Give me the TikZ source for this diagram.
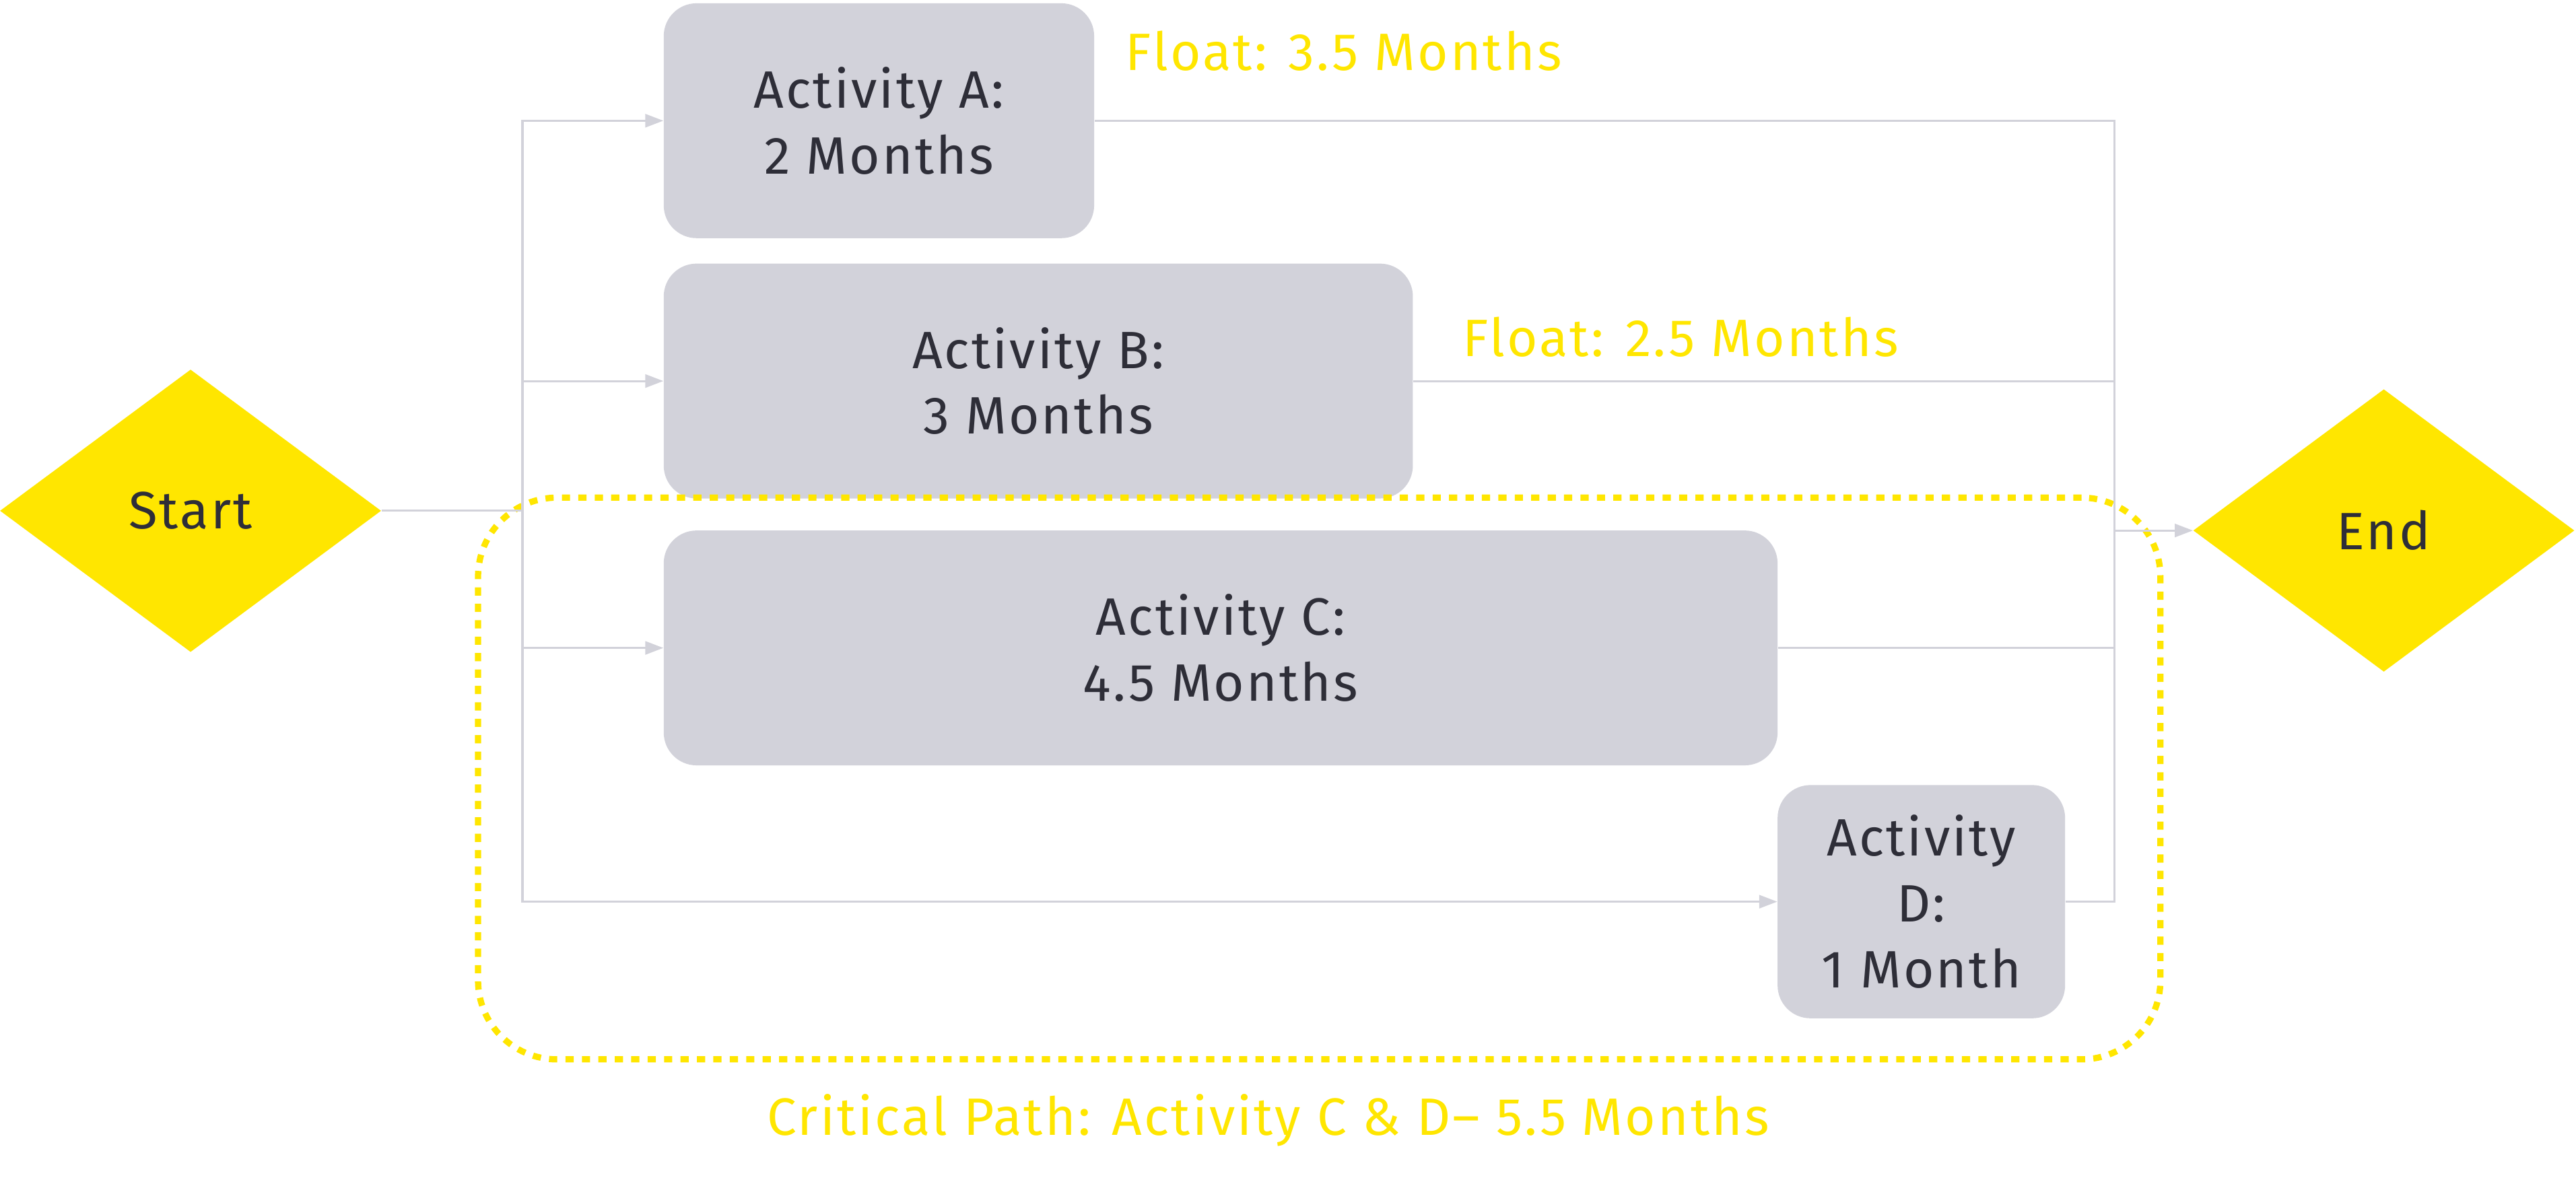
\documentclass[tikz,border=0pt]{standalone}
\usepackage{fontspec}
\setmainfont{Fira Sans}[LetterSpace=4]
\usepackage{tikz}
\usetikzlibrary{
  arrows.meta,
  positioning,
  shapes.geometric
}

\definecolor{eyyellow}{HTML}{FFE600}
\definecolor{eygray}{HTML}{D2D2DA}
\definecolor{eydark}{HTML}{2E2E38}

\begin{document}
\begin{tikzpicture}[
  x=1pt,
  y=-1pt,
  font=\fontsize{32}{40}\selectfont,
  terminal/.style={
    diamond,
    fill=eyyellow,
    inner sep=0pt,
    minimum width=232pt,
    minimum height=172pt,
    text=eydark
  },
  activity/.style={
    rectangle,
    rounded corners=20pt,
    fill=eygray,
    align=center,
    inner sep=0pt,
    minimum height=143pt,
    text=eydark
  },
  floatnote/.style={
    anchor=west,
    inner sep=0pt,
    text=eyyellow
  },
  critical/.style={
    draw=eyyellow,
    line width=3.8pt,
    dash pattern=on 5pt off 5pt,
    rounded corners=48pt,
    inner sep=0pt
  },
  link/.style={
    draw=eygray,
    line width=1.3pt
  },
  arrow/.style={
    link,
    -{Triangle[length=11pt,width=8pt]}
  }
]
\useasboundingbox (0,0) rectangle (1568,722);

\node[terminal] (start) at (116,311) {Start};
\node[terminal] (end) at (1451,323) {End};

\node[activity,minimum width=262pt] (actA) at (535,73.5)
  {Activity A:\\2 Months};
\node[activity,minimum width=456pt] (actB) at (632,232)
  {Activity B:\\3 Months};
\node[activity,minimum width=678pt] (actC) at (743,394.5)
  {Activity C:\\4.5 Months};
\node[activity,minimum width=175pt,minimum height=142pt] (actD) at (1169.5,549)
  {Activity\\D:\\1 Month};

\node[floatnote] (floatA) at (685,31) {Float: 3.5 Months};
\node[floatnote] (floatB) at (890,205) {Float: 2.5 Months};

% --- critical path frame ---
\node[critical,minimum width=1024pt,minimum height=342pt] (crit) at (803,474) {};
\node[text=eyyellow,inner sep=0pt] (critlabel) at (772,682)
  {Critical Path: Activity C \& D-- 5.5 Months};

% --- split and merge points ---
\coordinate (split) at (318,311);
\coordinate (merge) at (1287,323);

\draw[link] (start.east) -- (split);
\draw[arrow] (split) |- (actA.west);
\draw[arrow] (split) |- (actB.west);
\draw[arrow] (split) |- (actC.west);
\draw[arrow] (split) |- (actD.west);

\draw[link] (actA.east) -| (merge);
\draw[link] (actB.east) -| (merge);
\draw[link] (actC.east) -| (merge);
\draw[link] (actD.east) -| (merge);
\draw[arrow] (merge) -- (end.west);

\end{tikzpicture}
\end{document}
